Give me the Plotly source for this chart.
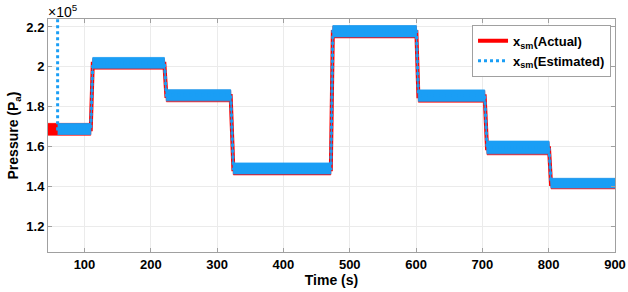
import plotly.graph_objects as go

# ---- data (pressure in units of 1e5 Pa) ----
time_act = [45, 109.5, 112.5, 220.5, 223.5, 320.5, 324.5, 471.5, 474.5, 600.5, 603.5, 703.5, 707, 800.5, 803.5, 900]
act_upper = [1.716, 1.716, 2.042, 2.042, 1.882, 1.882, 1.514, 1.514,
             2.204, 2.204, 1.881, 1.881, 1.624, 1.624, 1.437, 1.437]
act_lower = [1.656, 1.656, 1.988, 1.988, 1.824, 1.824, 1.457, 1.457,
             2.145, 2.145, 1.822, 1.822, 1.558, 1.558, 1.387, 1.387]

time_est = [59.5, 109.5, 112.5, 220.5, 223.5, 320.5, 324.5, 471.5, 474.5, 600.5, 603.5, 703.5, 707, 800.5, 803.5, 900]
est_upper = [1.715, 1.715, 2.047, 2.047, 1.885, 1.885, 1.517, 1.517,
             2.207, 2.207, 1.884, 1.884, 1.627, 1.627, 1.440, 1.440]
est_lower = [1.660, 1.660, 1.993, 1.993, 1.829, 1.829, 1.462, 1.462,
             2.150, 2.150, 1.827, 1.827, 1.563, 1.563, 1.392, 1.392]
est_initial = 2.6

x_ticks = [100, 200, 300, 400, 500, 600, 700, 800, 900]
y_ticks = [1.2, 1.4, 1.6, 1.8, 2.0, 2.2]

RED = "#FF0000"
BLUE = "#1A9EF5"
FONT = "Liberation Sans, Arial"

act_mid = [(u + l) / 2 for u, l in zip(act_upper, act_lower)]
est_mid = [(u + l) / 2 for u, l in zip(est_upper, est_lower)]

fig = go.Figure()

# actual band
fig.add_trace(go.Scatter(
    x=time_act + time_act[::-1], y=act_upper + act_lower[::-1],
    fill="toself", fillcolor=RED, mode="lines",
    line=dict(color="rgba(255,0,0,0.6)", width=1), showlegend=False, hoverinfo="skip"))
# actual center line (legend)
fig.add_trace(go.Scatter(
    x=time_act, y=act_mid, mode="lines", line=dict(color=RED, width=4),
    name="<b>x<sub>sm</sub>(Actual)</b>"))
# estimated band
fig.add_trace(go.Scatter(
    x=time_est + time_est[::-1], y=est_upper + est_lower[::-1],
    fill="toself", fillcolor=BLUE, mode="lines",
    line=dict(color=BLUE, width=0.8), showlegend=False, hoverinfo="skip"))
# estimated center line (legend)
fig.add_trace(go.Scatter(
    x=[time_est[0]] + time_est, y=[est_initial] + est_mid, mode="lines",
    line=dict(color=BLUE, width=3, dash="dot"),
    name="<b>x<sub>sm</sub>(Estimated)</b>"))

axis_common = dict(
    showline=True, linecolor="#A0A0A0", linewidth=1, mirror="ticks",
    ticks="inside", ticklen=4, tickcolor="#A0A0A0",
    showgrid=True, gridcolor="#EBEBEB", gridwidth=1, zeroline=False,
    automargin=False,
    tickfont=dict(family=FONT, size=13, color="black", weight="bold"),
)

fig.update_xaxes(range=[45, 900], tickvals=x_ticks, ticktext=[str(v) for v in x_ticks],
                 title=dict(text="<b>Time (s)</b>", font=dict(family=FONT, size=14, color="black"),
                            standoff=2),
                 **axis_common)
fig.update_yaxes(range=[1.07, 2.24], tickvals=y_ticks, ticktext=["1.2", "1.4", "1.6", "1.8", "2", "2.2"],
                 title=dict(text="<b>Pressure (P<sub>a</sub>)</b>", font=dict(family=FONT, size=14, color="black"),
                            standoff=4),
                 **axis_common)

fig.add_annotation(x=0, y=1, xref="paper", yref="paper", xanchor="left", yanchor="bottom",
                   text="\u00d710<sup>5</sup>", showarrow=False, yshift=-3, xshift=-2,
                   font=dict(family=FONT, size=14, color="black"))

fig.update_layout(
    width=628, height=292,
    margin=dict(l=48, r=13, t=19, b=40),
    plot_bgcolor="white", paper_bgcolor="white",
    legend=dict(x=0.993, y=0.975, xanchor="right", yanchor="top",
                bgcolor="white", bordercolor="#A0A0A0", borderwidth=1,
                font=dict(family=FONT, size=13, color="black"),
                tracegroupgap=0, itemwidth=30),
)

fig.write_html("out.html", config={"displayModeBar": False},
               post_script="document.body.style.margin='0';document.body.style.overflow='hidden';")
